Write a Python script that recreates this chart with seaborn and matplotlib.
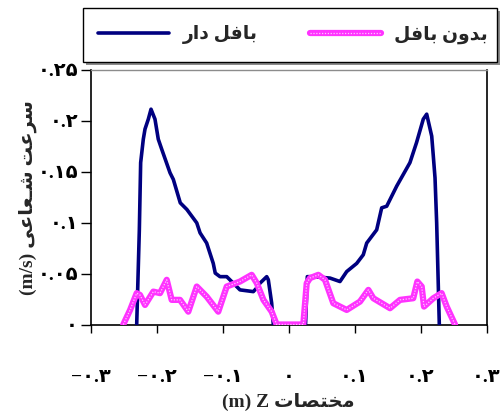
import matplotlib
matplotlib.use("Agg")
import matplotlib.pyplot as plt
import seaborn as sns
import pandas as pd
from matplotlib.lines import Line2D
from matplotlib.patches import Rectangle

# ---------------- data ----------------
z_baffle = [-0.230, -0.226, -0.224, -0.220, -0.2174, -0.2124, -0.2083, -0.2023, -0.1973, -0.192,
            -0.1795, -0.1745, -0.164, -0.154, -0.139, -0.134, -0.124, -0.114, -0.111, -0.1038,
            -0.0936, -0.0836, -0.0735, -0.0533, -0.048, -0.0432, -0.033, -0.0306, -0.0255, -0.023,
            0.0258, 0.0285, 0.0376, 0.0629, 0.078, 0.0882, 0.1033, 0.1133, 0.1185, 0.1336,
            0.1412, 0.1488, 0.164, 0.184, 0.194, 0.2042, 0.2094, 0.217, 0.2194, 0.222,
            0.2245, 0.2285]
v_baffle = [0.0, 0.093, 0.159, 0.182, 0.192, 0.2017, 0.2115, 0.2017, 0.182, 0.172,
            0.149, 0.1425, 0.1195, 0.113, 0.0998, 0.090, 0.080, 0.060, 0.0505, 0.047,
            0.047, 0.0406, 0.034, 0.0323, 0.036, 0.0406, 0.047, 0.044, 0.021, 0.0,
            0.0, 0.047, 0.047, 0.0456, 0.0422, 0.052, 0.060, 0.0685, 0.080, 0.093,
            0.1146, 0.1162, 0.136, 0.159, 0.1787, 0.2017, 0.2066, 0.185, 0.1655, 0.144,
            0.0998, 0.0]

z_nobaffle = [-0.2503, -0.240, -0.230, -0.225, -0.2174, -0.2048, -0.1947, -0.1845, -0.177, -0.1644,
              -0.1518, -0.139, -0.124, -0.1064, -0.0936, -0.0735, -0.0558, -0.048, -0.038, -0.0255,
              -0.0179, 0.0224, 0.0276, 0.0326, 0.0452, 0.0553, 0.0679, 0.0882, 0.1083, 0.121,
              0.1285, 0.1538, 0.169, 0.189, 0.1952, 0.2018, 0.2053, 0.2194, 0.232, 0.2397,
              0.2523]
v_nobaffle = [0.0, 0.0143, 0.0308, 0.029, 0.0192, 0.0323, 0.0308, 0.0439, 0.0242, 0.0242,
              0.0126, 0.0373, 0.0274, 0.0126, 0.0373, 0.0422, 0.0488, 0.0406, 0.0242, 0.0126,
              0.0, 0.0, 0.0406, 0.0456, 0.0488, 0.0439, 0.0209, 0.0143, 0.0225, 0.034,
              0.0258, 0.016, 0.0242, 0.0258, 0.0422, 0.0373, 0.0176, 0.0258, 0.0308, 0.0176,
              0.0]

x_ticks = [-0.3, -0.2, -0.1, 0.0, 0.1, 0.2, 0.3]
x_ticklabels = ["\u2212\u06F0.\u06F3", "\u2212\u06F0.\u06F2", "\u2212\u06F0.\u06F1", "\u06F0",
                "\u06F0.\u06F1", "\u06F0.\u06F2", "\u06F0.\u06F3"]
y_ticks = [0.0, 0.05, 0.1, 0.15, 0.2, 0.25]
y_ticklabels = ["\u06F0", "\u06F0.\u06F0\u06F5", "\u06F0.\u06F1", "\u06F0.\u06F1\u06F5",
                "\u06F0.\u06F2", "\u06F0.\u06F2\u06F5"]

# Persian labels, shaped (presentation forms) and in visual order
label_baffle = "\uFEAD\uFE8D\uFEA9 \uFEDE\uFED3\uFE8E\uFE91"          # بافل دار
label_nobaffle = "\uFEDE\uFED3\uFE8E\uFE91 \uFEE5\uFEED\uFEAA\uFE91"   # بدون بافل
ylabel_text = "(m/s) \uFEF0\uFECB\uFE8E\uFECC\u0640\uFEB7 \uFE96\uFECB\uFEAE\uFEB3"  # سرعت شعاعی (m/s)
xlabel_text = "(m) Z \uFE95\uFE8E\uFEBC\uFE98\uFEA8\uFEE3"            # مختصات Z (m)

# ---------------- style ----------------
sns.set_theme(style="white")
fam = ["Liberation Serif", "DejaVu Sans"]
plt.rcParams["font.family"] = fam

navy = "#000080"
magenta = "#FF33FF"
pink_dots = "#FFC8FF"

W, H = 503, 417
fig = plt.figure(figsize=(W / 100, H / 100), dpi=100)
ax = fig.add_axes([90.5 / W, 1 - 324.5 / H, (486.5 - 90.5) / W, (324.5 - 70) / H])

df_b = pd.DataFrame({"z": z_baffle, "v": v_baffle})
df_n = pd.DataFrame({"z": z_nobaffle, "v": v_nobaffle})

sns.lineplot(data=df_b, x="z", y="v", ax=ax, color=navy, lw=2.6, estimator=None, sort=False,
             legend=False, zorder=3)
sns.lineplot(data=df_n, x="z", y="v", ax=ax, color=magenta, lw=4.5, estimator=None, sort=False,
             legend=False, zorder=4)
sns.lineplot(data=df_n, x="z", y="v", ax=ax, color=pink_dots, lw=0.9, estimator=None, sort=False,
             legend=False, zorder=5, linestyle=(0, (1, 1.3)))

ax.set_xlim(-0.3, 0.3)
ax.set_ylim(0, 0.25)
ax.set_xticks(x_ticks)
ax.set_xticklabels(x_ticklabels, fontsize=14, fontweight="bold", family=fam)
ax.set_yticks(y_ticks)
ax.set_yticklabels(y_ticklabels, fontsize=14, fontweight="bold", family=fam)
ax.tick_params(axis="x", direction="out", length=6, width=1, color="black", pad=26,
               bottom=True, labelcolor="black")
ax.tick_params(axis="y", direction="out", length=7, width=1, color="black", pad=2,
               left=True, labelcolor="black")

for s in ["left", "bottom", "right"]:
    ax.spines[s].set_color("black")
    ax.spines[s].set_linewidth(1.2)
ax.spines["top"].set_color("0.55")
ax.spines["top"].set_linewidth(1.0)
ax.grid(False)
ax.set_facecolor("white")

ax.set_xlabel(xlabel_text, fontsize=14, fontweight="bold", family=fam, labelpad=5)
ax.set_ylabel(ylabel_text, fontsize=14, fontweight="bold", family=fam, labelpad=0)

# legend box (drawn separately) with shadow
bx0, by0, bx1, by1 = 83, 8, 497, 62
fig.patches.append(Rectangle(((bx0 + 3) / W, 1 - (by1 + 3) / H), (bx1 - bx0) / W, (by1 - by0) / H,
                             transform=fig.transFigure, facecolor="0.55", edgecolor="none", zorder=1))
fig.patches.append(Rectangle((bx0 / W, 1 - by1 / H), (bx1 - bx0) / W, (by1 - by0) / H,
                             transform=fig.transFigure, facecolor="white", edgecolor="black",
                             lw=1.0, zorder=2))

h_b = Line2D([], [], color=navy, lw=2.6)
h_n1 = Line2D([], [], color=magenta, lw=4.5)
h_n2 = Line2D([], [], color=pink_dots, lw=0.9, linestyle=(0, (1, 1.3)))
leg = fig.legend([h_b, (h_n1, h_n2)], [label_baffle, label_nobaffle],
                 loc="center", bbox_to_anchor=(293 / W, 1 - 35 / H),
                 bbox_transform=fig.transFigure, ncol=2, borderaxespad=0,
                 prop={"family": fam, "weight": "bold", "size": 13.5},
                 handlelength=3.8, handletextpad=0.7, borderpad=0.2, columnspacing=2.8,
                 frameon=False)

fig.savefig("out.png", dpi=100, facecolor="white")
